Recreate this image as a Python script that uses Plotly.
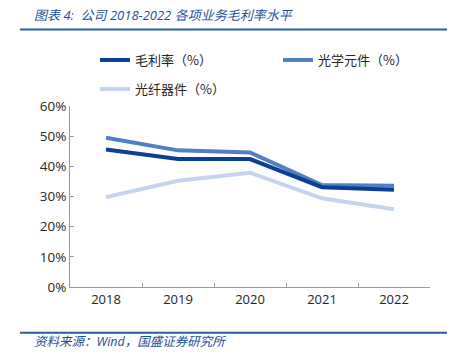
import plotly.graph_objects as go

years = ["2018", "2019", "2020", "2021", "2022"]
gross_margin = [45.6, 42.4, 42.4, 33.1, 32.2]
optical_elements = [49.5, 45.3, 44.6, 33.8, 33.6]
fiber_devices = [29.8, 35.2, 37.9, 29.4, 25.8]

names = ["毛利率（%）", "光学元件（%）", "光纤器件（%）"]
colors = ["#0B3F95", "#4F80C2", "#C3D4EC"]

W, H = 460, 363
fig = go.Figure()
fig.add_trace(go.Scatter(x=years, y=fiber_devices, name=names[2], mode="lines",
                         line=dict(color=colors[2], width=4), legend="legend3"))
fig.add_trace(go.Scatter(x=years, y=optical_elements, name=names[1], mode="lines",
                         line=dict(color=colors[1], width=4), legend="legend2"))
fig.add_trace(go.Scatter(x=years, y=gross_margin, name=names[0], mode="lines",
                         line=dict(color=colors[0], width=4), legend="legend"))

cjk = "Noto Sans CJK SC"
axis_col = "#999999"
legfont = dict(family=cjk, size=13, color="#262626")


def leg(xpx, ypx):
    return dict(orientation="h", xref="container", yref="container",
                x=xpx / W, xanchor="left", y=1 - ypx / H, yanchor="middle",
                font=legfont, bgcolor="rgba(0,0,0,0)")


pw, ph = 360, 181
fig.update_layout(
    width=W, height=H,
    margin=dict(l=70, r=30, t=106, b=76, autoexpand=False),
    paper_bgcolor="white", plot_bgcolor="white",
    font=dict(family="Open Sans, " + cjk, size=13, color="#262626"),
    showlegend=True,
    legend=leg(95, 60),
    legend2=leg(278, 60),
    legend3=leg(95, 89),
    xaxis=dict(type="category", range=[-0.5, 4.5], showgrid=False, showline=True,
               linecolor=axis_col, linewidth=1,
               ticks="inside", tickson="boundaries", ticklen=4, tickcolor=axis_col,
               tickfont=dict(size=13, color="#262626"), fixedrange=True),
    yaxis=dict(range=[0, 60], dtick=10, ticksuffix="%", showgrid=False, showline=True,
               linecolor=axis_col, linewidth=1, ticks="inside", ticklen=4, tickcolor=axis_col,
               tickfont=dict(size=13.5, color="#262626"), zeroline=False, fixedrange=True),
    shapes=[
        dict(type="line", xref="paper", yref="paper", x0=-50 / pw, x1=377 / pw,
             y0=1 + (106 - 29.5) / ph, y1=1 + (106 - 29.5) / ph,
             line=dict(color="#2A5CA8", width=2)),
        dict(type="line", xref="paper", yref="paper", x0=-50 / pw, x1=377 / pw,
             y0=-(332.7 - 287) / ph, y1=-(332.7 - 287) / ph,
             line=dict(color="#2A5CA8", width=2)),
    ],
    annotations=[
        dict(text="<i>图表 4:  公司 2018-2022 各项业务毛利率水平</i>", xref="paper", yref="paper",
             x=-38 / pw, y=1 + (106 - 15) / ph, xanchor="left", yanchor="middle",
             showarrow=False, font=dict(family="Open Sans, " + cjk, size=13, color="#1F4E9A")),
        dict(text="<i>资料来源：Wind，国盛证券研究所</i>", xref="paper", yref="paper",
             x=-38 / pw, y=-(341.5 - 287) / ph, xanchor="left", yanchor="middle",
             showarrow=False, font=dict(family="Open Sans, " + cjk, size=12.5, color="#1F4E9A")),
    ],
)
fig.write_html("out.html", config={"displayModeBar": False, "staticPlot": True},
               post_script="document.body.style.margin='0';document.body.style.overflow='hidden';")
